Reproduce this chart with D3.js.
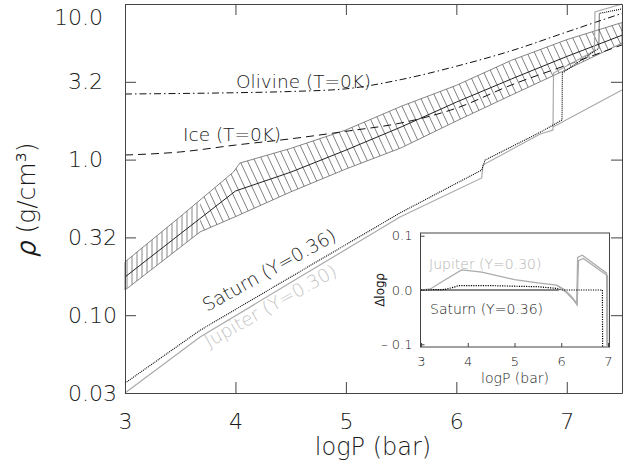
<!DOCTYPE html>
<html>
<meta charset="utf-8">
<script src="https://cdn.jsdelivr.net/npm/d3@7"></script>
<style>
  body { margin: 0; background: #fff; }
  text { font-family: "DejaVu Sans ExtraLight", "DejaVu Sans Light", "DejaVu Sans", sans-serif; }
</style>
<body>
<div id="plot_area"></div>
<script>

// ---- data: [logP (bar), rho (g/cm3)] ----
var yTickVals   = [Math.pow(10, -1.5), 0.1, Math.pow(10, -0.5), 1, Math.pow(10, 0.5), 10];
var yTickLabels = ["0.03", "0.10", "0.32", "1.0", "3.2", "10.0"];
var xTickVals   = [3, 4, 5, 6, 7];

var olivine = [[3.0, 2.64], [3.5, 2.66], [4.0, 2.69], [4.5, 2.74], [5.0, 2.85], [5.5, 3.27],
               [6.0, 3.98], [6.5, 5.01], [7.0, 6.61], [7.5, 8.71]];
var ice = [[3.0, 1.07], [3.5, 1.12], [4.0, 1.24], [4.5, 1.36], [5.0, 1.52], [5.5, 1.72],
           [6.0, 2.14], [6.5, 3.02], [7.0, 4.05], [7.5, 5.46]];

var bandUpper = [[3.0, 0.22], [3.5, 0.43], [3.98, 0.83], [4.04, 0.95], [4.5, 1.18], [5.0, 1.55],
                 [5.5, 2.2], [6.0, 3.0], [6.5, 4.35], [7.0, 5.9], [7.5, 7.6]];
var bandLower = [[3.0, 0.145], [3.68, 0.343], [4.0, 0.43], [4.5, 0.62], [5.0, 0.87], [5.5, 1.19],
                 [6.0, 1.77], [6.5, 2.6], [7.0, 3.8], [7.5, 5.6]];
var bandMid   = [[3.0, 0.176], [3.5, 0.333], [4.0, 0.628], [4.5, 0.83], [5.0, 1.15], [5.5, 1.62],
                 [6.0, 2.34], [6.5, 3.3], [7.0, 4.6], [7.5, 6.3]];
var hatchSplit = 3.68;

var jupiter = [[3.0, 0.0316], [3.68, 0.0724], [4.5, 0.162], [5.49, 0.428], [6.23, 0.762],
               [6.24, 0.923], [6.76, 1.46], [6.875, 1.55], [6.88, 3.6], [7.25, 5.0],
               [7.255, 8.9], [7.5, 10.0]];
var jupiterLow = [[6.875, 1.62], [7.5, 2.8]];
var saturn = [[3.0, 0.0366], [3.68, 0.080], [4.5, 0.176], [5.49, 0.454], [6.23, 0.857],
              [6.26, 0.993], [6.76, 1.50], [6.957, 1.80], [6.96, 3.6], [7.29, 5.2],
              [7.295, 8.7], [7.5, 9.3]];

// inset: [logP, delta log rho]
var inJupA = [[3.0, 0], [3.2, 0.002], [3.5, 0.018], [3.87, 0.037], [4.3, 0.033], [5.0, 0.019],
              [5.5, 0.013], [5.9, 0.009], [6.05, 0.002], [6.2, -0.01], [6.33, -0.024],
              [6.35, 0.06], [6.45, 0.064], [6.97, 0.031], [6.975, -0.105]];
var inJupB = [[5.9, 0.009], [6.1, -0.004], [6.25, -0.017], [6.34, -0.028], [6.37, 0.054],
              [6.47, 0.058], [6.99, 0.026], [6.995, -0.105]];
var inSat  = [[3.0, 0], [3.5, 0.001], [3.7, 0.005], [3.8, 0.008], [4.5, 0.008], [5.5, 0.006],
              [5.9, 0.003], [6.0, 0.0], [6.88, 0.0], [6.885, -0.105]];
var inZero = [[3.0, 0], [5.95, 0]];
var inYTicks = [-0.1, 0.0, 0.1];
var inYLabels = ["\u2013 0.1", "0.0", "0.1"];
var inXTicks = [3, 4, 5, 6, 7];

var W = 628, H = 463;
var frameColor = "#444";
var textColor = "#1a1a1a";

var svg = d3.select("#plot_area")
  .append("svg")
    .attr("width", W)
    .attr("height", H);

var x = d3.scaleLinear().domain([3, 7.5]).range([125, 622]);
var y = d3.scaleLog().domain([Math.pow(10, -1.5), 10]).range([393, 4]);

var line = d3.line()
  .x(function(d) { return x(d[0]); })
  .y(function(d) { return y(d[1]); });
var smooth = d3.line()
  .curve(d3.curveMonotoneX)
  .x(function(d) { return x(d[0]); })
  .y(function(d) { return y(d[1]); });

// hatched band: vertical hatching left of the kink, slanted to the right of it
var bandPoly = bandUpper.concat(bandLower.slice().reverse());
var defs = svg.append("defs");
defs.append("clipPath").attr("id", "bandClip")
  .append("path").attr("d", line(bandPoly) + "Z");
defs.append("clipPath").attr("id", "leftClip")
  .append("rect").attr("x", 0).attr("y", 0).attr("width", x(hatchSplit)).attr("height", H);
defs.append("clipPath").attr("id", "rightClip")
  .append("rect").attr("x", x(hatchSplit)).attr("y", 0).attr("width", W).attr("height", H);

var band = svg.append("g").attr("clip-path", "url(#bandClip)");
band.append("g").attr("clip-path", "url(#leftClip)")
  .selectAll("line")
  .data(d3.range(x(3) + 2, x(hatchSplit) + 5, 5))
  .enter().append("line")
    .attr("x1", function(d) { return d; }).attr("x2", function(d) { return d; })
    .attr("y1", 0).attr("y2", H)
    .attr("stroke", "#555").attr("stroke-width", 0.7);
band.append("g").attr("clip-path", "url(#rightClip)")
  .selectAll("line")
  .data(d3.range(x(hatchSplit) - 200, W + 10, 7.5))
  .enter().append("line")
    .attr("x1", function(d) { return d; }).attr("x2", function(d) { return d + 186; })
    .attr("y1", 0).attr("y2", 400)
    .attr("stroke", "#4a4a4a").attr("stroke-width", 0.7);

svg.append("path")
  .attr("d", line(bandPoly) + "Z")
  .attr("fill", "none").attr("stroke", "#666").attr("stroke-width", 0.8);
svg.append("path")
  .attr("d", line(bandMid))
  .attr("fill", "none").attr("stroke", "#222").attr("stroke-width", 1);

// EOS curves
svg.append("path")
  .attr("d", smooth(olivine))
  .attr("fill", "none").attr("stroke", "#111").attr("stroke-width", 1)
  .attr("stroke-dasharray", "7,3,1.5,3");
svg.append("path")
  .attr("d", smooth(ice))
  .attr("fill", "none").attr("stroke", "#111").attr("stroke-width", 1)
  .attr("stroke-dasharray", "8,5");

svg.append("path")
  .attr("d", line(jupiterLow))
  .attr("fill", "none").attr("stroke", "#aaa").attr("stroke-width", 1.2);
svg.append("path")
  .attr("d", line(jupiter))
  .attr("fill", "none").attr("stroke", "#aaa").attr("stroke-width", 1.2);
svg.append("path")
  .attr("d", line(saturn))
  .attr("fill", "none").attr("stroke", "#000").attr("stroke-width", 1.1)
  .attr("stroke-dasharray", "1,1");

// curve labels
svg.append("text").attr("x", 236).attr("y", 88).attr("font-size", 18.5)
  .attr("fill", textColor).text("Olivine (T=0K)");
svg.append("text").attr("x", 183).attr("y", 141).attr("font-size", 18.5)
  .attr("fill", textColor).text("Ice (T=0K)");
svg.append("text").attr("transform", "translate(207,312) rotate(-29)")
  .attr("font-size", 18.5).attr("fill", textColor).text("Saturn (Y=0.36)");
svg.append("text").attr("transform", "translate(209,348) rotate(-29.5)")
  .attr("font-size", 18.5).attr("fill", "#c4c4c4").text("Jupiter (Y=0.30)");

// axes (ticks inward on all four sides)
var gx = svg.append("g").attr("transform", "translate(0,393)")
  .call(d3.axisBottom(x).tickValues(xTickVals).tickSize(-11).tickSizeOuter(0).tickPadding(20)
    .tickFormat(d3.format("d")));
var gxt = svg.append("g").attr("transform", "translate(0,4)")
  .call(d3.axisTop(x).tickValues(xTickVals).tickSize(-11).tickSizeOuter(0).tickFormat(""));
var gy = svg.append("g").attr("transform", "translate(125,0)")
  .call(d3.axisLeft(y).tickValues(yTickVals).tickSize(-11).tickSizeOuter(0).tickPadding(8)
    .tickFormat(function(d, i) { return yTickLabels[i]; }));
var gyr = svg.append("g").attr("transform", "translate(622,0)")
  .call(d3.axisRight(y).tickValues(yTickVals).tickSize(-11).tickSizeOuter(0).tickFormat(""));

[gx, gxt, gy, gyr].forEach(function(g) {
  g.selectAll("path,line").attr("stroke", frameColor);
  g.selectAll("text").attr("fill", textColor).attr("font-family", null).attr("font-size", 22);
});
gy.selectAll(".tick text")
  .attr("dx", function(d, i) { return yTickVals[i] >= 1 ? -14 : 0; })
  .attr("dy", function(d, i) { return i === yTickVals.length - 1 ? "0.95em" : "0.32em"; });

svg.append("text")
  .attr("x", 373).attr("y", 455).attr("text-anchor", "middle").attr("font-size", 24)
  .attr("fill", textColor).text("logP (bar)");
var yt = svg.append("text")
  .attr("transform", "translate(35,200) rotate(-90)")
  .attr("text-anchor", "middle").attr("font-size", 25).attr("fill", textColor);
yt.append("tspan").attr("font-style", "italic").attr("font-weight", "bold").text("\u03c1");
yt.append("tspan").text(" (g/cm\u00b3)");

// ---- inset ----
var xi = d3.scaleLinear().domain([3, 7]).range([421, 608]);
var yi = d3.scaleLinear().domain([-0.105, 0.105]).range([347, 233]);
var lineIn = d3.line()
  .x(function(d) { return xi(d[0]); })
  .y(function(d) { return yi(d[1]); });

svg.append("rect")
  .attr("x", 420.5).attr("y", 233).attr("width", 189).attr("height", 114)
  .attr("fill", "#fff").attr("stroke", frameColor);

var inset = svg.append("g");
inset.append("path").attr("d", lineIn(inZero))
  .attr("fill", "none").attr("stroke", "#111").attr("stroke-width", 1);
inset.append("path").attr("d", lineIn(inJupB))
  .attr("fill", "none").attr("stroke", "#aaa").attr("stroke-width", 1.2);
inset.append("path").attr("d", lineIn(inJupA))
  .attr("fill", "none").attr("stroke", "#aaa").attr("stroke-width", 1.2);
inset.append("path").attr("d", lineIn(inSat))
  .attr("fill", "none").attr("stroke", "#000").attr("stroke-width", 1.2)
  .attr("stroke-dasharray", "1.2,1.2");

var gxi = svg.append("g").attr("transform", "translate(0,347)")
  .call(d3.axisBottom(xi).tickValues(inXTicks).tickSize(-4).tickSizeOuter(0).tickPadding(10)
    .tickFormat(d3.format("d")));
var gyi = svg.append("g").attr("transform", "translate(420.5,0)")
  .call(d3.axisLeft(yi).tickValues(inYTicks).tickSize(-4).tickSizeOuter(0).tickPadding(8)
    .tickFormat(function(d, i) { return inYLabels[i]; }));
[gxi, gyi].forEach(function(g) {
  g.select(".domain").remove();
  g.selectAll("line").attr("stroke", frameColor);
  g.selectAll("text").attr("fill", textColor).attr("font-family", null).attr("font-size", 13);
});

svg.append("text").attr("x", 515).attr("y", 383).attr("text-anchor", "middle")
  .attr("font-size", 14).attr("fill", textColor).text("logP (bar)");
svg.append("text").attr("transform", "translate(384,290) rotate(-90)")
  .attr("text-anchor", "middle").attr("font-size", 12).attr("font-weight", "bold")
  .attr("fill", textColor).text("\u0394log\u03c1");
svg.append("text").attr("x", 429).attr("y", 269).attr("font-size", 14)
  .attr("fill", "#b4b4b4").text("Jupiter (Y=0.30)");
svg.append("text").attr("x", 430).attr("y", 314).attr("font-size", 14)
  .attr("fill", textColor).text("Saturn (Y=0.36)");

</script>
</body>
</html>
